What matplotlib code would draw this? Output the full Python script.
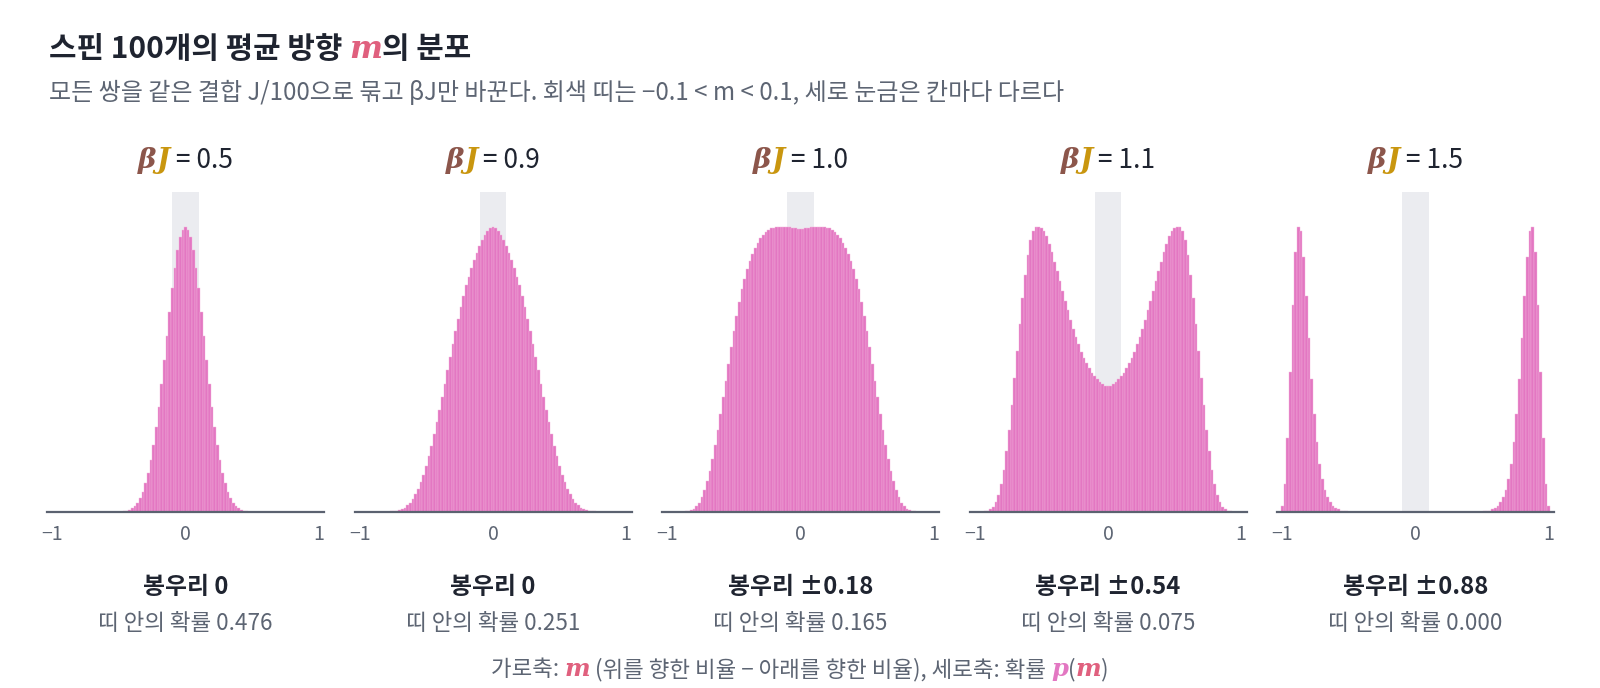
import numpy as np
import matplotlib.pyplot as plt

plt.rcParams['font.family'] = ['Noto Sans CJK KR', 'DejaVu Sans']

# m = -1.00, -0.98, ..., 1.00 (101 possible values for 100 spins)
m_values = np.round(np.arange(-50, 51) * 0.02, 2)

beta_j = ['0.5', '0.9', '1.0', '1.1', '1.5']
peak_labels = ['봉우리 0', '봉우리 0', '봉우리 ±0.18', '봉우리 ±0.54', '봉우리 ±0.88']
band_probs = ['0.476', '0.251', '0.165', '0.075', '0.000']

# p(m), each panel scaled to its own peak
p_05 = [0, 0, 0, 0, 0, 0, 0, 0, 0, 0,
        0, 0, 0, 0, 0, 0, 0, 0, 0, 0,
        0, 0, 0, 0, 0, 0, 0, 0.001, 0.003, 0.006,
        0.012, 0.020, 0.032, 0.047, 0.070, 0.099, 0.137, 0.181, 0.234, 0.298,
        0.368, 0.448, 0.532, 0.616, 0.702, 0.784, 0.854, 0.918, 0.963, 0.990,
        1.000, 0.990, 0.963, 0.918, 0.854, 0.784, 0.702, 0.616, 0.532, 0.448,
        0.368, 0.298, 0.234, 0.181, 0.137, 0.099, 0.070, 0.047, 0.032, 0.020,
        0.012, 0.006, 0.003, 0.001, 0, 0, 0, 0, 0, 0,
        0, 0, 0, 0, 0, 0, 0, 0, 0, 0,
        0, 0, 0, 0, 0, 0, 0, 0, 0, 0,
        0]
p_09 = [0, 0, 0, 0, 0, 0, 0, 0, 0, 0,
        0, 0, 0.001, 0.002, 0.003, 0.005, 0.009, 0.014, 0.022, 0.032,
        0.045, 0.061, 0.080, 0.103, 0.130, 0.160, 0.194, 0.231, 0.271, 0.313,
        0.358, 0.403, 0.449, 0.496, 0.543, 0.589, 0.633, 0.676, 0.718, 0.758,
        0.795, 0.823, 0.855, 0.884, 0.909, 0.932, 0.953, 0.971, 0.986, 0.996,
        1.000, 0.996, 0.986, 0.971, 0.953, 0.932, 0.909, 0.884, 0.855, 0.823,
        0.795, 0.758, 0.718, 0.676, 0.633, 0.589, 0.543, 0.496, 0.449, 0.403,
        0.358, 0.313, 0.271, 0.231, 0.194, 0.160, 0.130, 0.103, 0.080, 0.061,
        0.045, 0.032, 0.022, 0.014, 0.009, 0.005, 0.003, 0.002, 0.001, 0,
        0, 0, 0, 0, 0, 0, 0, 0, 0, 0,
        0]
p_10 = [0, 0, 0, 0, 0, 0, 0, 0.001, 0.002, 0.005,
        0.010, 0.019, 0.032, 0.050, 0.075, 0.106, 0.143, 0.186, 0.234, 0.286,
        0.342, 0.401, 0.460, 0.519, 0.577, 0.633, 0.687, 0.736, 0.780, 0.818,
        0.850, 0.878, 0.903, 0.925, 0.944, 0.960, 0.972, 0.982, 0.989, 0.994,
        0.997, 0.999, 1.000, 1.000, 1.000, 1.000, 0.999, 0.996, 0.994, 0.992,
        0.991, 0.992, 0.994, 0.996, 0.999, 1.000, 1.000, 1.000, 1.000, 0.999,
        0.997, 0.994, 0.989, 0.982, 0.972, 0.960, 0.944, 0.925, 0.903, 0.878,
        0.850, 0.818, 0.780, 0.736, 0.687, 0.633, 0.577, 0.519, 0.460, 0.401,
        0.342, 0.286, 0.234, 0.186, 0.143, 0.106, 0.075, 0.050, 0.032, 0.019,
        0.010, 0.005, 0.002, 0.001, 0, 0, 0, 0, 0, 0,
        0]
p_11 = [0, 0, 0, 0, 0.001, 0.003, 0.008, 0.017, 0.034, 0.060,
        0.098, 0.148, 0.212, 0.288, 0.373, 0.468, 0.565, 0.660, 0.750, 0.830,
        0.900, 0.955, 0.985, 1.000, 0.999, 0.995, 0.984, 0.966, 0.941, 0.910,
        0.875, 0.845, 0.811, 0.776, 0.741, 0.706, 0.671, 0.642, 0.613, 0.587,
        0.562, 0.540, 0.522, 0.504, 0.488, 0.475, 0.464, 0.454, 0.447, 0.441,
        0.440, 0.441, 0.447, 0.454, 0.464, 0.475, 0.488, 0.504, 0.522, 0.540,
        0.562, 0.587, 0.613, 0.642, 0.671, 0.706, 0.741, 0.776, 0.811, 0.845,
        0.875, 0.910, 0.941, 0.966, 0.984, 0.995, 0.999, 1.000, 0.985, 0.955,
        0.900, 0.830, 0.750, 0.660, 0.565, 0.468, 0.373, 0.288, 0.212, 0.148,
        0.098, 0.060, 0.034, 0.017, 0.008, 0.003, 0.001, 0, 0, 0,
        0]
p_15 = [0.020, 0.096, 0.258, 0.489, 0.727, 0.912, 1.000, 0.986, 0.895, 0.758,
        0.609, 0.464, 0.342, 0.244, 0.169, 0.115, 0.077, 0.051, 0.034, 0.021,
        0.013, 0.008, 0.004, 0.002, 0.001, 0, 0, 0, 0, 0,
        0, 0, 0, 0, 0, 0, 0, 0, 0, 0,
        0, 0, 0, 0, 0, 0, 0, 0, 0, 0,
        0, 0, 0, 0, 0, 0, 0, 0, 0, 0,
        0, 0, 0, 0, 0, 0, 0, 0, 0, 0,
        0, 0, 0, 0, 0, 0, 0.001, 0.002, 0.004, 0.008,
        0.013, 0.021, 0.034, 0.051, 0.077, 0.115, 0.169, 0.244, 0.342, 0.464,
        0.609, 0.758, 0.895, 0.986, 1.000, 0.912, 0.727, 0.489, 0.258, 0.096,
        0.020]
dists = [p_05, p_09, p_10, p_11, p_15]

DARK = '#1f2430'
GRAY = '#5d6573'
PINK = '#e377c2'
MRED = '#e0607e'
BETA = '#8c564b'
JGOLD = '#c9960f'
SERIF = dict(family='DejaVu Serif', style='italic', weight='bold')

fig = plt.figure(figsize=(16, 6.88), dpi=100)
renderer = fig.canvas.get_renderer()


def text_width(s, **kw):
    # width of s in figure fraction, bracketed so edge spaces count
    a = fig.text(0, 0, '|' + s + '|', **kw)
    b = fig.text(0, 0, '||', **kw)
    w = (a.get_window_extent(renderer).width - b.get_window_extent(renderer).width)
    a.remove()
    b.remove()
    return w / fig.bbox.width


def rich_text(x, y, parts, ha='center'):
    widths = [text_width(s, **kw) for s, kw in parts]
    cur = x - sum(widths) / 2 if ha == 'center' else x
    for (s, kw), w in zip(parts, widths):
        fig.text(cur, y, s, va='baseline', ha='left', **kw)
        cur += w


left0, width, step = 47 / 1600, 277 / 1600, 307.5 / 1600
bottom, height = 1 - 511.7 / 688, 320 / 688

for i, p in enumerate(dists):
    ax = fig.add_axes([left0 + i * step, bottom, width, height])
    ax.axvspan(-0.1, 0.1, color='#ebecf0', lw=0, zorder=0)
    ax.bar(m_values, p, width=0.02, color=PINK, edgecolor='#f3b5dc',
           linewidth=0.3, zorder=2)
    ax.set_xlim(-1.04, 1.04)
    ax.set_ylim(0, max(p) * 1.1228)
    for side in ['left', 'right', 'top']:
        ax.spines[side].set_visible(False)
    ax.spines['bottom'].set_color('#5b6270')
    ax.spines['bottom'].set_linewidth(1.6)
    ax.spines['bottom'].set_zorder(3)
    ax.set_yticks([])
    ax.set_xticks([-1, 0, 1])
    ax.set_xticklabels(['−1', '0', '1'])
    ax.tick_params(axis='x', length=0, pad=9, labelsize=14, labelcolor=GRAY)

    cx = left0 + i * step + width / 2
    rich_text(cx, 0.756, [('β', dict(color=BETA, fontsize=20, **SERIF)),
                          ('J', dict(color=JGOLD, fontsize=20, **SERIF)),
                          (' = ' + beta_j[i], dict(color=DARK, fontsize=19))])
    fig.text(cx, 0.136, peak_labels[i], ha='center', va='baseline',
             fontsize=17.2, weight='bold', color=DARK)
    fig.text(cx, 0.085, '띠 안의 확률 ' + band_probs[i], ha='center',
             va='baseline', fontsize=16.2, color=GRAY)

rich_text(49 / 1600, 0.916, [('스핀 100개의 평균 방향 ', dict(color=DARK, fontsize=21.5, weight='bold')),
                             ('m', dict(color=MRED, fontsize=22.5, **SERIF)),
                             ('의 분포', dict(color=DARK, fontsize=21.5, weight='bold'))], ha='left')
fig.text(49 / 1600, 0.854,
         '모든 쌍을 같은 결합 J/100으로 묶고 βJ만 바꾼다. 회색 띠는 −0.1 < m < 0.1, 세로 눈금은 칸마다 다르다',
         ha='left', va='baseline', fontsize=17.3, color=GRAY)

rich_text(0.5, 0.017, [('가로축: ', dict(color=GRAY, fontsize=16.1)),
                       ('m', dict(color=MRED, fontsize=17.5, **SERIF)),
                       (' (위를 향한 비율 − 아래를 향한 비율), 세로축: 확률 ', dict(color=GRAY, fontsize=16.1)),
                       ('p', dict(color=PINK, fontsize=17.5, **SERIF)),
                       ('(', dict(color=GRAY, fontsize=16.1)),
                       ('m', dict(color=MRED, fontsize=17.5, **SERIF)),
                       (')', dict(color=GRAY, fontsize=16.1))])

fig.savefig('out.png', dpi=100, facecolor='white')
